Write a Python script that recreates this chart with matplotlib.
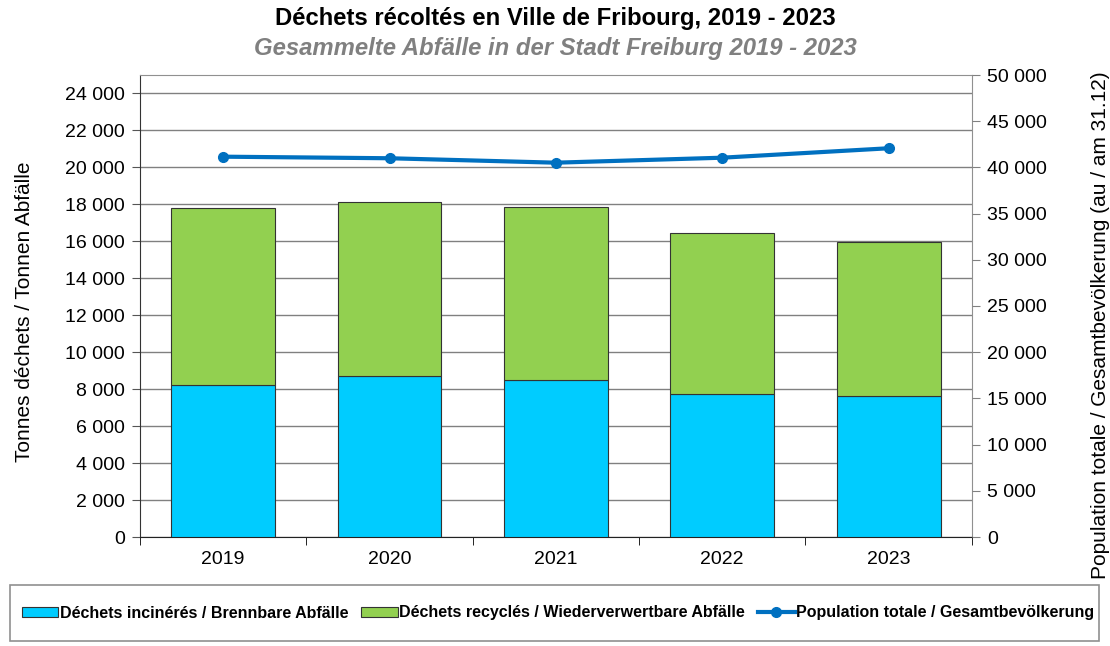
import matplotlib.pyplot as plt
import numpy as np
from matplotlib.patches import Rectangle
from matplotlib.ticker import FuncFormatter

annees = ['2019', '2020', '2021', '2022', '2023']
incineres = [8230, 8720, 8520, 7730, 7640]
recycles = [9550, 9390, 9330, 8740, 8320]
population = [41160, 40990, 40510, 41050, 42070]

plt.rcParams['font.family'] = ['Liberation Sans', 'DejaVu Sans']

def espace_milliers(v, pos):
    return '{:,.0f}'.format(v).replace(',', ' ')

W, H = 1110, 646
fig = plt.figure(figsize=(W / 100, H / 100), dpi=100)
ax = fig.add_axes([140 / W, 1 - 537 / H, 831.7 / W, 462 / H])
x = np.arange(len(annees))

ax.bar(x, incineres, width=0.625, color='#00CCFF', edgecolor='#333333', linewidth=0.8, zorder=3,
       label='Déchets incinérés / Brennbare Abfälle')
ax.bar(x, recycles, width=0.625, bottom=incineres, color='#92D050', edgecolor='#333333', linewidth=0.8,
       zorder=3, label='Déchets recyclés / Wiederverwertbare Abfälle')

ax.set_xlim(-0.5, 4.5)
ax.set_ylim(0, 25000)
ax.set_yticks(range(0, 24001, 2000))
ax.yaxis.set_major_formatter(FuncFormatter(espace_milliers))
ax.set_xticks(x)
ax.set_xticklabels(annees)
ax.set_xticks(np.arange(-0.5, 5, 1), minor=True)
ax.tick_params(axis='x', which='major', length=0, pad=10, labelsize=14)
ax.tick_params(axis='x', which='minor', length=6, color='black')
ax.tick_params(axis='y', length=6, labelsize=14, color='#555555', pad=5)
ax.grid(axis='y', color='#808080', linewidth=1, zorder=0)
ax.spines['top'].set_color('#909090')
ax.spines['right'].set_color('#909090')
ax.spines['left'].set_color('#333333')
ax.spines['bottom'].set_color('#222222')

ax2 = ax.twinx()
ax2.plot(x, population, color='#0070C0', linewidth=3, marker='o', markersize=7, zorder=4,
         label='Population totale / Gesamtbevölkerung')
ax2.set_ylim(0, 50000)
ax2.set_yticks(range(0, 50001, 5000))
ax2.yaxis.set_major_formatter(FuncFormatter(espace_milliers))
ax2.tick_params(axis='y', length=6, labelsize=14, color='#808080', pad=5)
for s in ax2.spines.values():
    s.set_visible(False)

fig.text(25 / W, 1 - 312 / H, 'Tonnes déchets / Tonnen Abfälle', rotation=90, ha='center', va='center',
         fontsize=15)
fig.text(1100 / W, 1 - 325 / H, 'Population totale / Gesamtbevölkerung (au / am 31.12)', rotation=90,
         ha='center', va='center', fontsize=15)

fig.text(0.5, 1 - 18 / H, 'Déchets récoltés en Ville de Fribourg, 2019 - 2023', ha='center', va='center',
         fontsize=17.2, fontweight='bold')
fig.text(0.5, 1 - 48 / H, 'Gesammelte Abfälle in der Stadt Freiburg 2019 - 2023', ha='center', va='center',
         fontsize=17.2, fontweight='bold', fontstyle='italic', color='#808080')

# cadre de la légende
fig.patches.append(Rectangle((10 / W, 5 / H), 1089 / W, 56 / H, transform=fig.transFigure,
                             fill=False, edgecolor='#909090', linewidth=1.2))

h1, l1 = ax.get_legend_handles_labels()
h2, l2 = ax2.get_legend_handles_labels()
fig.legend(h1 + h2, l1 + l2, loc='center', bbox_to_anchor=(558 / W, 1 - 613 / H), ncol=3, frameon=False,
           prop={'weight': 'bold', 'size': 11.5},
           handlelength=2.3, handleheight=0.6, handletextpad=0.1, columnspacing=0.8)

fig.savefig('out.png', dpi=100)
